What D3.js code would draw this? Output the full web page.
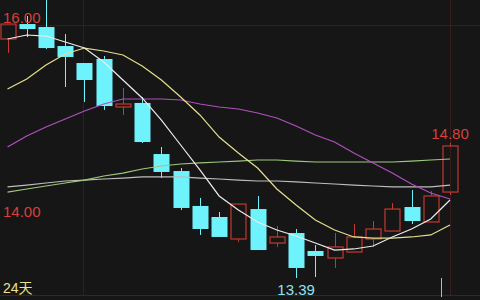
<!DOCTYPE html>
<html><head><meta charset="utf-8">
<script src="https://cdn.jsdelivr.net/npm/d3@7"></script>
<style>html,body{margin:0;padding:0;background:#161616;}svg{display:block;}</style>
</head><body>
<svg id="c" width="480" height="300"></svg>
<script>
const days = d3.range(24);
const open  = [15.880,16.036,16.005,15.807,15.630,15.672,15.172,15.214,14.682,14.505,14.141,14.026,13.797,14.109,13.755,13.859,13.672,13.599,13.661,13.797,13.880,14.130,13.974,14.286];
const close = [16.036,15.984,15.786,15.693,15.453,15.182,15.203,14.807,14.495,14.120,13.901,13.818,14.161,13.682,13.818,13.495,13.620,13.714,13.818,13.901,14.109,13.984,14.245,14.766];
const high  = [16.036,16.120,16.400,15.932,15.630,15.703,15.370,15.276,14.755,14.536,14.224,14.078,14.161,14.245,13.932,13.901,13.734,13.859,13.953,13.984,14.172,14.307,14.297,14.800];
const low   = [15.734,15.900,15.776,15.380,15.224,15.141,15.089,14.797,14.432,14.099,13.839,13.818,13.766,13.682,13.714,13.390,13.401,13.495,13.661,13.714,13.880,13.953,13.974,14.255];
const ma5   = [15.880,15.922,15.911,15.849,15.786,15.641,15.453,15.266,15.036,14.776,14.516,14.245,14.099,13.974,13.891,13.828,13.755,13.682,13.693,13.724,13.818,13.901,14.005,14.203];
const ma10  = [15.359,15.464,15.609,15.724,15.786,15.755,15.714,15.599,15.453,15.276,15.089,14.859,14.693,14.536,14.318,14.151,13.995,13.891,13.818,13.807,13.807,13.818,13.839,13.943];
const ma20  = [14.755,14.870,14.964,15.047,15.130,15.203,15.255,15.255,15.255,15.245,15.203,15.172,15.151,15.109,15.057,14.974,14.880,14.807,14.693,14.589,14.484,14.370,14.276,14.214];
const ma60  = [14.286,14.318,14.349,14.380,14.411,14.453,14.484,14.526,14.557,14.578,14.589,14.599,14.609,14.620,14.620,14.609,14.599,14.599,14.599,14.599,14.599,14.609,14.620,14.630];
const ma120 = [14.339,14.359,14.380,14.401,14.411,14.422,14.432,14.443,14.443,14.443,14.432,14.422,14.411,14.401,14.401,14.391,14.380,14.370,14.359,14.349,14.339,14.339,14.339,14.359];
const axisTicks = [16.00, 14.00];
const highLabel = "14.80", lowLabel = "13.39", periodLabel = "24天";

const svg = d3.select("#c");
const x = d3.scaleLinear().domain([0, 23]).range([7.5, 450]);
const y = d3.scaleLinear().domain([14, 16]).range([219.5, 27.5]);
const UP = "#c23a30", DOWN = "#6ef2fb";
const bw = 15;

// grid
const grid = svg.append("g").attr("stroke", "#3a1c1c").attr("stroke-width", 1);
grid.append("line").attr("x1", 0).attr("x2", 480).attr("y1", 25.5).attr("y2", 25.5);
grid.append("line").attr("x1", 0).attr("x2", 480).attr("y1", 295.5).attr("y2", 295.5).attr("stroke", "#4a1e1e");
grid.append("line").attr("x1", 83.5).attr("x2", 83.5).attr("y1", 0).attr("y2", 295);
grid.append("line").attr("x1", 450.5).attr("x2", 450.5).attr("y1", 0).attr("y2", 295);

// candles
const g = svg.append("g");
days.forEach(i => {
  const up = close[i] >= open[i];
  const col = up ? UP : DOWN;
  const cx = Math.round(x(i)) + 0.5;
  const top = y(Math.max(open[i], close[i])), bot = y(Math.min(open[i], close[i]));
  g.append("line").attr("x1", cx).attr("x2", cx).attr("y1", y(high[i])).attr("y2", top).attr("stroke", col).attr("stroke-width", 1);
  g.append("line").attr("x1", cx).attr("x2", cx).attr("y1", bot).attr("y2", y(low[i])).attr("stroke", col).attr("stroke-width", 1);
  if (up) {
    g.append("rect").attr("x", cx - bw/2).attr("y", top).attr("width", bw).attr("height", Math.max(1, bot - top))
      .attr("fill", "none").attr("stroke", col).attr("stroke-width", 1.2);
  } else {
    g.append("rect").attr("x", cx - bw/2 - 0.5).attr("y", top).attr("width", bw + 1).attr("height", Math.max(1, bot - top))
      .attr("fill", col);
  }
});

// moving averages
const line = d3.line().x((d, i) => x(i)).y(d => y(d)).curve(d3.curveLinear);
const series = [[ma120, "#bdbdbd"], [ma60, "#9cc97a"], [ma20, "#b24fc0"], [ma10, "#e4df8c"], [ma5, "#ececec"]];
series.forEach(([d, c]) => {
  svg.append("path").attr("d", line(d)).attr("fill", "none").attr("stroke", c).attr("stroke-width", 1.2);
});

// labels
const font = "'Liberation Sans', Arial, Helvetica, sans-serif";
svg.append("text").attr("x", 3).attr("y", y(axisTicks[0]) - 5).text(axisTicks[0].toFixed(2))
  .attr("fill", "#d8403a").attr("font-size", 15).attr("font-family", font);
svg.append("text").attr("x", 3).attr("y", y(axisTicks[1]) - 2.5).text(axisTicks[1].toFixed(2))
  .attr("fill", "#d8403a").attr("font-size", 15).attr("font-family", font);
const hiIdx = d3.maxIndex(high.slice(4)) + 4;
svg.append("text").attr("x", x(23)).attr("y", y(+highLabel) - 4).attr("text-anchor", "middle").text(highLabel)
  .attr("fill", "#d8403a").attr("font-size", 15).attr("font-family", font);
const loIdx = d3.minIndex(low);
svg.append("text").attr("x", x(loIdx)).attr("y", y(+lowLabel) + 17).attr("text-anchor", "middle").text(lowLabel)
  .attr("fill", "#8fe4ee").attr("font-size", 15).attr("font-family", font);
svg.append("text").attr("x", 3).attr("y", 293).text(periodLabel)
  .attr("fill", "#ece38c").attr("font-size", 14).attr("font-family", "'Liberation Sans', 'Noto Sans CJK SC', sans-serif");

// short marker at bottom
svg.append("line").attr("x1", 441.5).attr("x2", 441.5).attr("y1", 278).attr("y2", 297).attr("stroke", "#b8b8b8").attr("stroke-width", 1);
</script>
</body></html>
